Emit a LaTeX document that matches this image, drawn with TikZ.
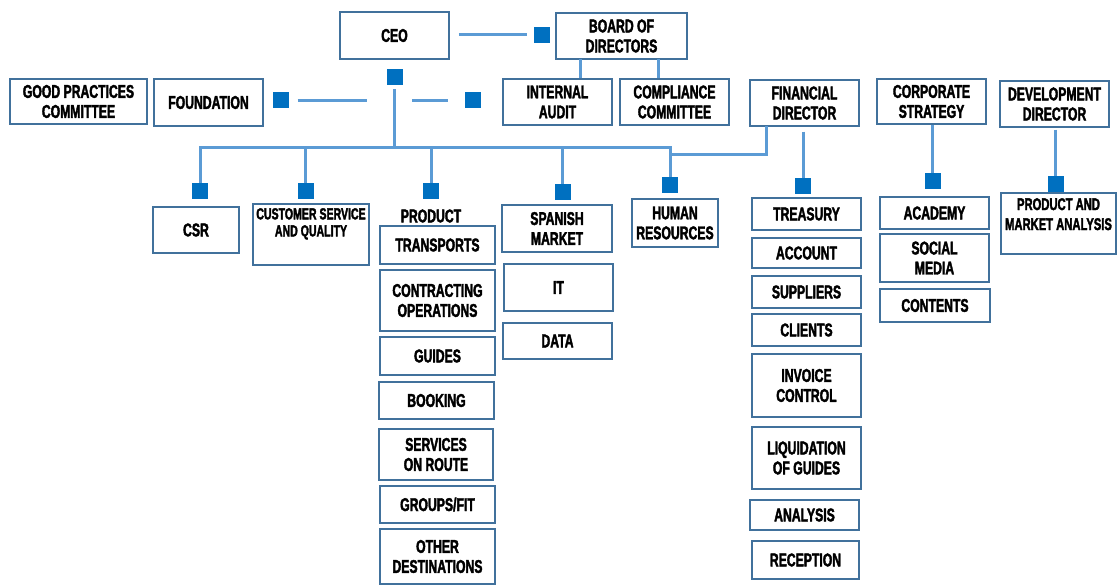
\documentclass[tikz,border=0pt]{standalone}
\usepackage{fontspec}
\usepackage{tikz}
\newfontfamily\impact{Liberation Sans}[FakeStretch=0.66,FakeBold=2]
\newcommand\unitfont{\impact\bfseries\fontsize{18.5}{20}\selectfont}
\newcommand\smallunitfont{\impact\bfseries\fontsize{16}{17}\selectfont}
\definecolor{boxblue}{RGB}{65,113,156}
\definecolor{lineblue}{RGB}{91,155,213}
\definecolor{knotblue}{RGB}{0,112,192}

\begin{document}
\begin{tikzpicture}[x=1pt,y=1pt,yscale=-1,xscale=1,
    unit/.style={draw=boxblue, line width=1.5pt, fill=white, align=center, font=\unitfont, inner sep=0.75pt},
    caption/.style={align=center, font=\unitfont, inner sep=0.75pt},
    knot/.style={fill=knotblue, minimum size=16pt, inner sep=0pt},
    link/.style={draw=lineblue, line width=3pt}]
        \useasboundingbox (0,0) rectangle (1117,585);

        %Top level
        \node [unit, minimum width=109, minimum height=47] (ceo) at (394.5,35.5) {CEO};
        \node [unit, minimum width=131, minimum height=46] (board) at (621.5,36) {BOARD OF\\DIRECTORS};
        \node [unit, minimum width=137, minimum height=45] (good) at (78.5,101.5) {GOOD PRACTICES\\COMMITTEE};
        \node [unit, minimum width=109, minimum height=47] (found) at (208.5,102.5) {FOUNDATION};
        \node [unit, minimum width=109, minimum height=46] (audit) at (557.5,102) {INTERNAL\\AUDIT};
        \node [unit, minimum width=109, minimum height=46] (compl) at (674.5,102) {COMPLIANCE\\COMMITTEE};
        \node [unit, minimum width=109, minimum height=46] (fin) at (804.5,103) {FINANCIAL\\DIRECTOR};
        \node [unit, minimum width=109, minimum height=45] (corp) at (931.5,101.5) {CORPORATE\\STRATEGY};
        \node [unit, minimum width=109, minimum height=46] (dev) at (1054.5,104) {DEVELOPMENT\\DIRECTOR};

        %Departments
        \node [unit, minimum width=86, minimum height=46] (csr) at (196,230) {CSR};
        \node [unit, minimum width=116, minimum height=61] (csq) at (311,234.5) {};
        \node [caption, font=\smallunitfont, anchor=north] (csqText) at ([yshift=4]csq.north) {CUSTOMER SERVICE\\AND QUALITY};
        \node [caption] (prod) at (431,216) {PRODUCT};
        \node [unit, minimum width=110, minimum height=47] (span) at (557,228.5) {SPANISH\\MARKET};
        \node [unit, minimum width=86, minimum height=48] (hr) at (675,223) {HUMAN\\RESOURCES};
        \node [unit, minimum width=115, minimum height=61] (pma) at (1058.5,223.5) {};
        \node [caption, font=\impact\bfseries\fontsize{17}{20}\selectfont, anchor=north] (pmaText) at ([yshift=5]pma.north) {PRODUCT AND\\MARKET ANALYSIS};

        %Product column
        \node [unit, minimum width=115, minimum height=38] (transp) at (437.5,245) {TRANSPORTS};
        \node [unit, minimum width=115, minimum height=61] (contr) at (437.5,300.5) {CONTRACTING\\OPERATIONS};
        \node [unit, minimum width=115, minimum height=38] (guides) at (437.5,356) {GUIDES};
        \node [unit, minimum width=115, minimum height=37] (book) at (436.5,400.5) {BOOKING};
        \node [unit, minimum width=114, minimum height=51] (route) at (436,454.5) {SERVICES\\ON ROUTE};
        \node [unit, minimum width=115, minimum height=37] (groups) at (437.5,504.5) {GROUPS/FIT};
        \node [unit, minimum width=115, minimum height=55] (other) at (437.5,556.5) {OTHER\\DESTINATIONS};

        %Market column
        \node [unit, minimum width=109, minimum height=47] (it) at (558.5,287.5) {IT};
        \node [unit, minimum width=109, minimum height=36] (data) at (557.5,341) {DATA};

        %Finance column
        \node [unit, minimum width=109, minimum height=32] (treas) at (806.5,214) {TREASURY};
        \node [unit, minimum width=109, minimum height=30] (account) at (806.5,253) {ACCOUNT};
        \node [unit, minimum width=109, minimum height=32] (suppl) at (806.5,292) {SUPPLIERS};
        \node [unit, minimum width=109, minimum height=32] (clients) at (806.5,330) {CLIENTS};
        \node [unit, minimum width=109, minimum height=63] (invoice) at (806.5,385.5) {INVOICE\\CONTROL};
        \node [unit, minimum width=109, minimum height=62] (liquid) at (806.5,458) {LIQUIDATION\\OF GUIDES};
        \node [unit, minimum width=109, minimum height=30] (analysis) at (804.5,515) {ANALYSIS};
        \node [unit, minimum width=107, minimum height=38] (recep) at (805.5,560) {RECEPTION};

        %Strategy column
        \node [unit, minimum width=109, minimum height=32] (academy) at (934.5,213) {ACADEMY};
        \node [unit, minimum width=109, minimum height=48] (social) at (934.5,258) {SOCIAL\\MEDIA};
        \node [unit, minimum width=110, minimum height=33] (contents) at (935,305.5) {CONTENTS};

        %Knots
        \node [knot] (sqBoard) at (542,35) {};
        \node [knot] (sqCeo) at (394.5,77.5) {};
        \node [knot] (sqFound) at (281,100.5) {};
        \node [knot] (sqAudit) at (472.5,100.5) {};
        \node [knot] (sqCsr) at (200,191) {};
        \node [knot] (sqCsq) at (305.5,191.5) {};
        \node [knot] (sqProd) at (431,191) {};
        \node [knot] (sqSpan) at (562.5,192.5) {};
        \node [knot] (sqHr) at (670,185.5) {};
        \node [knot] (sqFin) at (803,186) {};
        \node [knot] (sqCorp) at (932.5,181.5) {};
        \node [knot] (sqDev) at (1055.5,184.5) {};

        \coordinate (hub) at (395,100.5);
        \coordinate (busR) at (670,148);
        \coordinate (finFoot) at (766,126);
        \coordinate (finStep) at (670,154.5);
        \coordinate (boardL) at (580,59);
        \coordinate (boardR) at (658,59);

        %Connectors
        \draw [link, shorten <=9pt, shorten >=7pt] (ceo.east |- sqBoard.west) -- (sqBoard.west);
        \draw [link, shorten <=3.5pt] (sqCeo.south) -- (sqCeo.south |- busR);
        \draw [link, shorten <=8.5pt, shorten >=28pt] (sqFound.east) -- (hub);
        \draw [link, shorten <=17pt, shorten >=16pt] (hub) -- (sqAudit.west);
        \draw [link] (boardL) -- (boardL |- audit.north);
        \draw [link] (boardR) -- (boardR |- compl.north);
        \draw [link] (sqCsr.north) |- (busR) -- (sqHr.north);
        \foreach \s in {sqCsq,sqProd,sqSpan}
            \draw [link] (\s.north) -- (\s.north |- busR);
        \draw [link] (finFoot) |- (finStep);
        \draw [link, shorten <=5pt] (sqFin.north |- fin.south) -- (sqFin.north);
        \draw [link] (sqCorp.north |- corp.south) -- (sqCorp.north);
        \draw [link, shorten <=2pt] (sqDev.north |- dev.south) -- (sqDev.north);

    \end{tikzpicture}
\end{document}
